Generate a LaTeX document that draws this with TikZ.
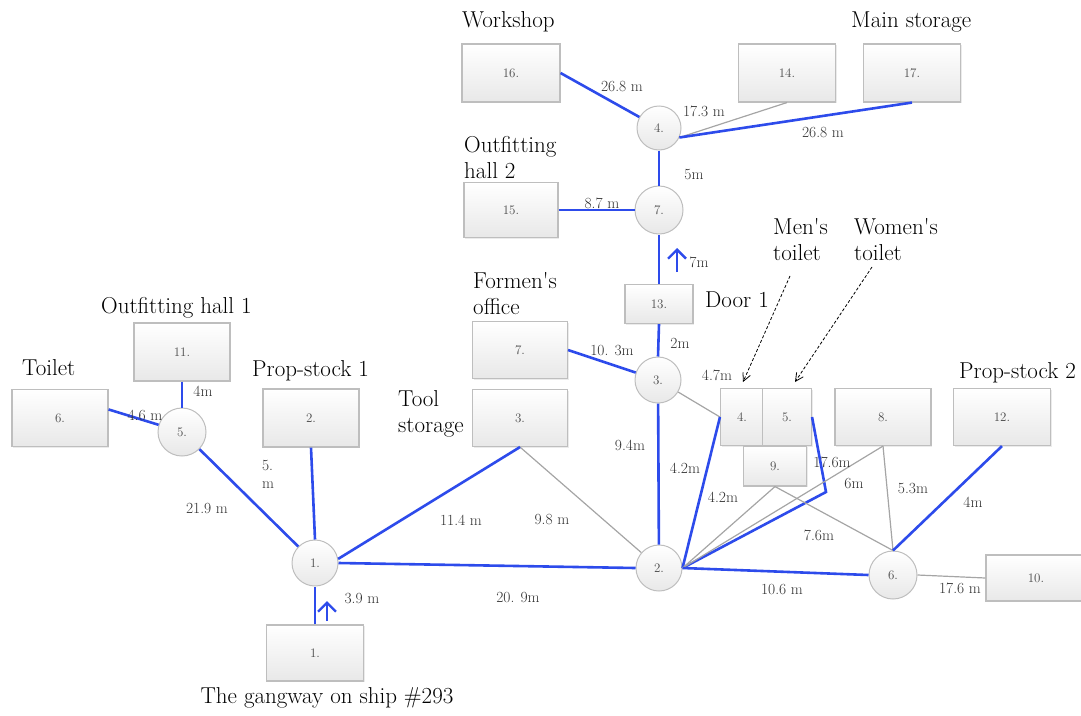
\documentclass[tikz,border=0pt]{standalone}
\usepackage{fontspec}
\usetikzlibrary{arrows.meta,shadows}
\definecolor{lblue}{RGB}{45,75,235}
\definecolor{lgray}{RGB}{165,165,165}
\definecolor{bord}{RGB}{190,190,190}
\definecolor{boxbot}{RGB}{232,232,232}
\definecolor{numc}{RGB}{75,75,75}
\definecolor{distc}{RGB}{50,50,50}
\tikzset{
  room/.style={draw=bord, line width=1.1pt, top color=white, bottom color=boxbot,
    minimum width=96pt, minimum height=57pt, inner sep=0pt,
    font=\fontsize{13}{15}\selectfont\addfontfeature{FakeBold=0.6}, text=numc,
    drop shadow={shadow xshift=1pt, shadow yshift=-1pt, fill=black, opacity=0.08}},
  junction/.style={circle, draw=bord, line width=1pt, top color=white, bottom color=boxbot,
    minimum size=46pt, inner sep=0pt, font=\fontsize{13}{15}\selectfont\addfontfeature{FakeBold=0.6}, text=numc},
  bl/.style={lblue, line width=2.6pt},
  gr/.style={lgray, line width=1.2pt},
  dist/.style={font=\fontsize{15.5}{18}\selectfont\addfontfeature{FakeBold=0.8}, text=distc, inner sep=0pt},
  title/.style={font=\fontsize{23}{26}\selectfont\addfontfeature{FakeBold=0.3}, inner sep=0pt, align=left, anchor=west},
  callout/.style={black, line width=0.8pt, dash pattern=on 3pt off 2pt,
    -{Straight Barb[length=8pt,width=8pt]}},
  uparrow/.style={lblue, line width=2.4pt, -{Straight Barb[length=9pt,width=18pt]}}
}
\begin{document}
\begin{tikzpicture}[x=1pt,y=-1pt]
\useasboundingbox (0,0) rectangle (1081,715);
% rooms
\node[room, minimum width=98pt, minimum height=58pt] (b16) at (511,73) {16.};
\node[room, minimum width=97pt, minimum height=58pt] (b14) at (787,73) {14.};
\node[room, minimum width=97pt, minimum height=58pt] (b17) at (912,73) {17.};
\node[room, minimum width=94pt, minimum height=55pt] (b15) at (511,210) {15.};
\node[room, minimum width=68pt, minimum height=39pt] (b13) at (659,304) {13.};
\node[room, minimum width=95pt] (b7) at (520,350) {7.};
\node[room, minimum width=95pt] (b3) at (520,418) {3.};
\node[room, minimum height=58pt] (b2) at (311,418) {2.};
\node[room, minimum height=58pt] (b11) at (182,352) {11.};
\node[room] (b6) at (60,418) {6.};
\node[room, minimum width=97pt, minimum height=56pt] (b1) at (315,653) {1.};
\node[room, minimum width=43pt] (b4) at (742,417) {4.};
\node[room, minimum width=49pt] (b5) at (787,417) {5.};
\node[room, minimum width=63pt, minimum height=40pt] (b9) at (775,466) {9.};
\node[room] (b8) at (883,417) {8.};
\node[room, minimum width=97pt] (b12) at (1002,417) {12.};
\node[room, minimum width=100pt, minimum height=46pt] (b10) at (1036,578) {10.};
% junctions
\node[junction, minimum size=44pt] (c4) at (659,128) {4.};
\node[junction, minimum size=48pt] (c7) at (659,210) {7.};
\node[junction] (c3) at (658,380) {3.};
\node[junction, minimum size=48pt] (c5) at (182,432) {5.};
\node[junction] (c1) at (315,563) {1.};
\node[junction] (c2) at (659,568) {2.};
\node[junction, minimum size=48pt] (c6) at (893,575) {6.};
% connectors
\draw[bl] (b16.east) -- (c4);
\draw[gr] (c4.-25) -- (b14.south);
\draw[bl] (c4.-25) -- (b17.south);
\draw[bl] (c4) -- (c7);
\draw[bl] (b15) -- (c7);
\draw[bl] (b13.north) -- (c7.south);
\draw[bl] (b13.south) -- (c3.north);
\draw[bl] (b7.east) -- (c3);
\draw[gr] (c3) -- (b4.west);
\draw[bl] (c3) -- (c2);
\draw[bl] (c2.east) -- (b4.west);
\coordinate (kink) at (826,492);
\draw[bl] (c2.east) -- (kink) -- (b5.east);
\draw[gr] (c2.east) -- (b9.south);
\draw[gr] (c2.east) -- (b8.south);
\draw[bl] (c2.east) -- (c6.west);
\draw[gr] (b9.south) -- (c6.north);
\draw[gr] (b8.south) -- (c6.north);
\draw[bl] (b12.south) -- (c6.north);
\draw[gr] (c6.east) -- (b10.west);
\draw[gr] (b3.south) -- (c2);
\draw[bl] (b3.south) -- (c1.10);
\draw[bl] (c1.east) -- (c2.west);
\draw[bl] (b2.south) -- (c1.north);
\draw[bl] (c5) -- (c1);
\draw[bl] (b6.10) -- (c5);
\draw[bl] (b11.south) -- (c5.north);
\draw[bl] (b1.north) -- (c1.south);
% direction arrows
\coordinate (a1s) at (327,621); \coordinate (a1e) at (327,601);
\draw[uparrow] (a1s) -- (a1e);
\coordinate (a2s) at (677,272); \coordinate (a2e) at (677,248);
\draw[uparrow] (a2s) -- (a2e);
% callouts
\coordinate (m1) at (790,276); \coordinate (m2) at (743,382);
\draw[callout] (m1) -- (m2);
\coordinate (w1) at (872,267); \coordinate (w2) at (795,382);
\draw[callout] (w1) -- (w2);
% distances
\node[dist] (d1) at (622,86) {26.8 m};
\node[dist] (d2) at (704,111) {17.3 m};
\node[dist] (d3) at (823,132) {26.8 m};
\node[dist] (d4) at (694,175) {5m};
\node[dist] (d5) at (602,203) {8.7 m};
\node[dist] (d6) at (699,262) {7m};
\node[dist] (d7) at (680,343) {2m};
\node[dist] (d8) at (612,350) {10. 3m};
\node[dist] (d9) at (717,375) {4.7m};
\node[dist] (d10) at (630,445) {9.4m};
\node[dist] (d11) at (685,468) {4.2m};
\node[dist] (d12) at (723,497) {4.2m};
\node[dist] (d13) at (832,462) {17.6m};
\node[dist] (d14) at (854,483) {6m};
\node[dist] (d15) at (913,488) {5.3m};
\node[dist] (d16) at (973,502) {4m};
\node[dist] (d17) at (819,535) {7.6m};
\node[dist] (d18) at (782,589) {10.6 m};
\node[dist] (d19) at (960,588) {17.6 m};
\node[dist] (d20) at (518,597) {20. 9m};
\node[dist] (d21) at (461,520) {11.4 m};
\node[dist] (d22) at (552,519) {9.8 m};
\node[dist] (d23) at (362,598) {3.9 m};
\node[dist, align=left] (d24) at (268,474) {5.\\m};
\node[dist] (d25) at (207,508) {21.9 m};
\node[dist] (d26) at (145,415) {4.6 m};
\node[dist] (d27) at (203,391) {4m};
% captions
\node[title] (t1) at (462,22) {Workshop};
\node[title] (t2) at (851,22) {Main storage};
\node[title] (t3) at (464,158) {Outfitting\\hall 2};
\node[title] (t4) at (773,240) {Men\textquotesingle s\\toilet};
\node[title] (t5) at (854,240) {Women\textquotesingle s\\toilet};
\node[title] (t6) at (473,294) {Formen\textquotesingle s\\office};
\node[title] (t7) at (705,300) {Door 1};
\node[title] (t8) at (101,308) {Outfitting hall 1};
\node[title] (t9) at (22,368) {Toilet};
\node[title] (t10) at (252,371) {Prop-stock 1};
\node[title] (t11) at (959,373) {Prop-stock 2};
\node[title] (t12) at (398,414) {Tool\\storage};
\node[title, anchor=center] (t13) at (327,698) {The gangway on ship \#293};
\end{tikzpicture}
\end{document}
